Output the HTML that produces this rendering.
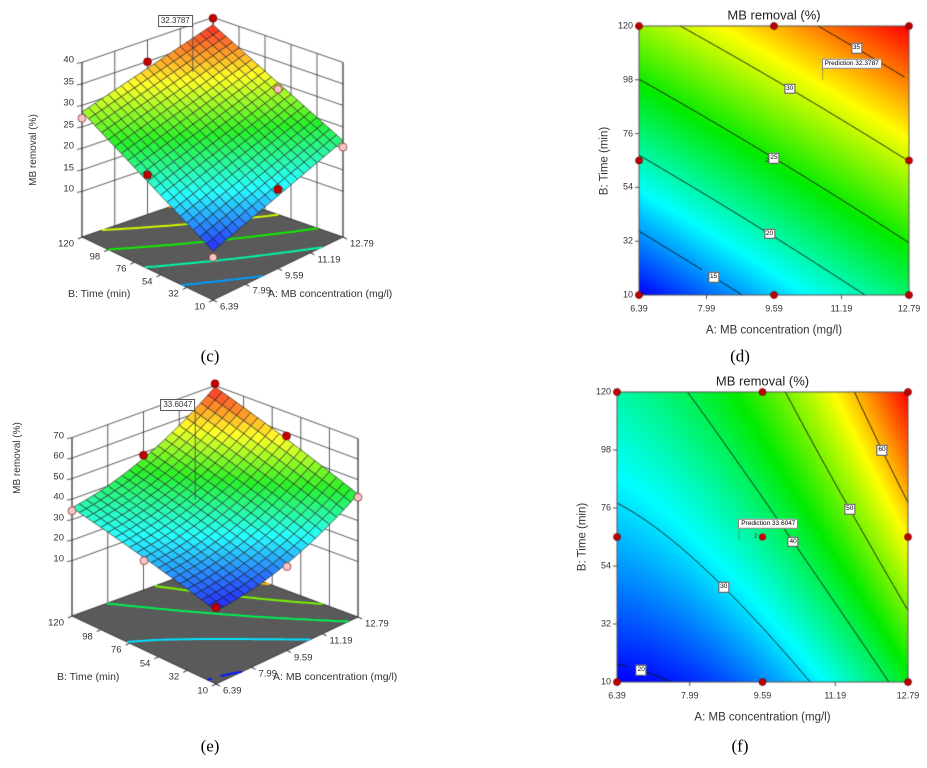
<!DOCTYPE html>
<html><head><meta charset="utf-8">
<style>
body{margin:0;width:927px;height:768px;background:#fff;position:relative;overflow:hidden;font-family:"Liberation Sans",sans-serif;}
canvas{position:absolute;left:0;top:0}
.t{position:absolute;white-space:nowrap;color:#333;line-height:1}
</style></head>
<body>
<canvas id="cv" width="927" height="768"></canvas>
<script>
// ---- data ----
const tickA = ['6.39','7.99','9.59','11.19','12.79'];
const tickB = ['10','32','54','76','98','120'];
const coefC = [10.8, 11, 17.7, -1.2, 0, 0];   // c0, A, B, AB, A^2, B^2 (coded 0..1)
const coefE = [18.8, 2.6, 20, 9.5, 21.5, -3];
const levelsC = [15, 20, 25, 30, 35];
const levelsE = [20, 30, 40, 50, 60];
const zTicksC = [10, 15, 20, 25, 30, 35, 40];
const zTicksE = [10, 20, 30, 40, 50, 60, 70];
const designA = [0, 0.5, 1, 0, 1, 0, 0.5, 1];
const designB = [0, 0, 0, 0.5, 0.5, 1, 1, 1];
const designResidC = [-1.5, 1.5, -1.5, 1.5, -1.5, -1.5, 1.5, 1.5];
const designResidE = [1.5, -1.5, -1.5, -1.5, 1.5, -1.5, 1.5, 1.5];

const cv = document.getElementById('cv'), ctx = cv.getContext('2d');
function model(c, a, b){ return c[0]+c[1]*a+c[2]*b+c[3]*a*b+c[4]*a*a+c[5]*b*b; }
const stops=[[0,0,255],[0,255,255],[0,235,0],[255,255,0],[255,0,0]];
function jet(t){ t=Math.max(0,Math.min(1,t)); const s=t*4, i=Math.min(3,Math.floor(s)), f=s-i;
  const p=stops[i], q=stops[i+1]; return [0,1,2].map(k=>Math.round(p[k]+(q[k]-p[k])*f)); }
function rgb(c){return 'rgb('+c[0]+','+c[1]+','+c[2]+')';}
function range(c){ let mn=1e9,mx=-1e9; for(let i=0;i<=20;i++)for(let j=0;j<=20;j++){const z=model(c,i/20,j/20);mn=Math.min(mn,z);mx=Math.max(mx,z);} return [mn,mx]; }
function txt(x,y,s,size,align,name,rot,extra){
  const d=document.createElement('div'); d.className='t'; d.textContent=s;
  d.style.left=x+'px'; d.style.top=y+'px'; d.style.fontSize=size+'px';
  const tx = align==='c'?'-50%':(align==='r'?'-100%':'0');
  d.style.transform='translate('+tx+',-50%)'+(rot?' rotate('+rot+'deg)':'');
  if(extra) d.style.cssText+=extra;
  
  
  document.body.appendChild(d); return d;
}
function contourSegs(c, level, N){
  const segs=[];
  for(let i=0;i<N;i++)for(let j=0;j<N;j++){
    const a0=i/N,a1=(i+1)/N,b0=j/N,b1=(j+1)/N;
    const v=[model(c,a0,b0),model(c,a1,b0),model(c,a1,b1),model(c,a0,b1)];
    const P=[[a0,b0],[a1,b0],[a1,b1],[a0,b1]], pts=[];
    for(let e=0;e<4;e++){const p=v[e],q=v[(e+1)%4];
      if((p-level)*(q-level)<0){const f=(level-p)/(q-p);const A=P[e],B=P[(e+1)%4];pts.push([A[0]+(B[0]-A[0])*f,A[1]+(B[1]-A[1])*f]);}}
    if(pts.length===2) segs.push(pts); else if(pts.length===4){segs.push([pts[0],pts[1]]);segs.push([pts[2],pts[3]]);}
  }
  return segs;
}

// ---- 3D panel ----
function draw3D(cfg){
  const [mn,mx]=range(cfg.coef);
  const F=cfg.F,R=cfg.R,L=cfg.L,K=cfg.K;
  function fl(a,b){return [(1-a)*(1-b)*F[0]+a*(1-b)*R[0]+(1-a)*b*L[0]+a*b*K[0],(1-a)*(1-b)*F[1]+a*(1-b)*R[1]+(1-a)*b*L[1]+a*b*K[1]];}
  function P(a,b,z){const p=fl(a,b);return [p[0],p[1]-(z-cfg.z0)*cfg.k];}
  ctx.lineWidth=0.8; ctx.strokeStyle='#333';
  const zt=cfg.zTicks, ztop=zt[zt.length-1];
  ctx.beginPath();
  for(let i=0;i<tickA.length;i++){const a=i/(tickA.length-1);const p=P(a,1,cfg.z0),q=P(a,1,ztop);ctx.moveTo(p[0],p[1]);ctx.lineTo(q[0],q[1]);}
  for(let i=0;i<tickB.length;i++){const b=i/(tickB.length-1);const p=P(1,b,cfg.z0),q=P(1,b,ztop);ctx.moveTo(p[0],p[1]);ctx.lineTo(q[0],q[1]);}
  zt.forEach(z=>{const p=P(0,1,z),q=P(1,1,z),r=P(1,0,z);ctx.moveTo(p[0],p[1]);ctx.lineTo(q[0],q[1]);ctx.lineTo(r[0],r[1]);});
  ctx.stroke();
  zt.forEach(z=>{const p=P(0,1,z);ctx.beginPath();ctx.moveTo(p[0]-5,p[1]+1);ctx.lineTo(p[0],p[1]);ctx.stroke();
    txt(p[0]-8,p[1]-2,String(z),cfg.fs,'r','z-tick-label');});
  const f0=fl(0,0),f1=fl(1,0),f2=fl(1,1),f3=fl(0,1);
  ctx.fillStyle='#5a5a5a';ctx.beginPath();ctx.moveTo(f0[0],f0[1]);ctx.lineTo(f1[0],f1[1]);ctx.lineTo(f2[0],f2[1]);ctx.lineTo(f3[0],f3[1]);ctx.closePath();ctx.fill();
  ctx.strokeStyle='#222';ctx.stroke();
  cfg.levels.forEach(l=>{ctx.strokeStyle=rgb(jet((l-mn)/(mx-mn)));ctx.lineWidth=2;ctx.beginPath();
    contourSegs(cfg.coef,l,40).forEach(s=>{const p=fl(s[0][0],s[0][1]),q=fl(s[1][0],s[1][1]);ctx.moveTo(p[0],p[1]);ctx.lineTo(q[0],q[1]);});ctx.stroke();});
  ctx.strokeStyle='#222';ctx.lineWidth=1;
  tickB.forEach((s,i)=>{const b=i/(tickB.length-1);const p=fl(0,b);ctx.beginPath();ctx.moveTo(p[0],p[1]);ctx.lineTo(p[0]-4,p[1]+2);ctx.stroke();
    txt(p[0]-8,p[1]+7,s,cfg.fs,'r','b-tick-label');});
  tickA.forEach((s,i)=>{const a=i/(tickA.length-1);const p=fl(a,0);ctx.beginPath();ctx.moveTo(p[0],p[1]);ctx.lineTo(p[0]+4,p[1]+2);ctx.stroke();
    txt(p[0]+7,p[1]+7,s,cfg.fs,'l','a-tick-label');});
  const N=20, cells=[];
  for(let i=0;i<N;i++)for(let j=0;j<N;j++)cells.push([i,j]);
  cells.sort((u,v)=>(v[0]+v[1])-(u[0]+u[1]));
  ctx.lineWidth=0.6;ctx.strokeStyle='#1a1a1a';
  cells.forEach(([i,j])=>{const a0=i/N,a1=(i+1)/N,b0=j/N,b1=(j+1)/N;
    const z=model(cfg.coef,(a0+a1)/2,(b0+b1)/2);
    const pts=[P(a0,b0,model(cfg.coef,a0,b0)),P(a1,b0,model(cfg.coef,a1,b0)),P(a1,b1,model(cfg.coef,a1,b1)),P(a0,b1,model(cfg.coef,a0,b1))];
    ctx.fillStyle=rgb(jet((z-mn)/(mx-mn)).map(v=>Math.round(v*0.85+40)));
    ctx.beginPath();ctx.moveTo(pts[0][0],pts[0][1]);for(let k=1;k<4;k++)ctx.lineTo(pts[k][0],pts[k][1]);ctx.closePath();ctx.fill();ctx.stroke();});
  ctx.strokeStyle='#333';ctx.lineWidth=0.8;
  [[0,1],[1,0]].forEach(([a,b])=>{const p=P(a,b,cfg.z0),q=P(a,b,ztop);ctx.beginPath();ctx.moveTo(p[0],p[1]);ctx.lineTo(q[0],q[1]);ctx.stroke();});
  designA.forEach((a,i)=>{const b=designB[i];const r=cfg.resid[i];const p=P(a,b,model(cfg.coef,a,b)+r);
    ctx.beginPath();ctx.arc(p[0],p[1],4,0,7);ctx.fillStyle=r>0?'#c00000':'#f6c6c6';ctx.fill();ctx.strokeStyle='#600';ctx.lineWidth=0.6;ctx.stroke();});
  const pc=P(0.5,0.5,model(cfg.coef,0.5,0.5));
  ctx.strokeStyle='#444';ctx.lineWidth=0.8;ctx.beginPath();ctx.moveTo(pc[0]-20,pc[1]+cfg.flagDrop);ctx.lineTo(pc[0]-20,cfg.flagY+5);ctx.stroke();
  txt(pc[0]-20,cfg.flagY,cfg.flag,8,'r','prediction-flag',0,'border:1px solid #555;background:#fff;padding:1px 2px;');
  txt(cfg.zlab[0],cfg.zlab[1],'MB removal (%)',10,'c','z-axis-title',-90);
  txt(cfg.blab[0],cfg.blab[1],'B: Time (min)',10.5,'l','b-axis-title');
  txt(cfg.alab[0],cfg.alab[1],'A: MB concentration  (mg/l)',10.5,'l','a-axis-title');
}

// ---- 2D contour panel ----
function draw2D(cfg){
  const [mn,mx]=range(cfg.coef);
  const x0=cfg.x0,x1=cfg.x1,y0=cfg.y0,y1=cfg.y1,w=x1-x0,h=y1-y0;
  const img=ctx.getImageData(x0,y0,w,h);
  for(let y=0;y<h;y++)for(let x=0;x<w;x++){const a=x/(w-1),b=1-y/(h-1);const c=jet((model(cfg.coef,a,b)-mn)/(mx-mn));const o=(y*w+x)*4;img.data[o]=c[0];img.data[o+1]=c[1];img.data[o+2]=c[2];img.data[o+3]=255;}
  ctx.putImageData(img,x0,y0);
  const X=a=>x0+a*w, Y=b=>y1-b*h;
  ctx.strokeStyle='#111';ctx.lineWidth=0.9;
  cfg.levels.forEach((l,li)=>{ctx.beginPath();const segs=contourSegs(cfg.coef,l,60);
    segs.forEach(s=>{ctx.moveTo(X(s[0][0]),Y(s[0][1]));ctx.lineTo(X(s[1][0]),Y(s[1][1]));});ctx.stroke();
    const la=cfg.labA[li];let best=null,bd=1e9;
    segs.forEach(s=>{const d=Math.abs(s[0][0]-la);if(d<bd){bd=d;best=s;}});
    if(best) txt(X(best[0][0]),Y(best[0][1]),String(l),6.5,'c','contour-label',0,'background:#fff;border:1px solid #555;padding:1px 1px;color:#000;');
  });
  ctx.strokeStyle='#555';ctx.lineWidth=1;ctx.strokeRect(x0,y0,w,h);
  tickA.forEach((s,i)=>{const x=X(i/(tickA.length-1));ctx.beginPath();ctx.moveTo(x,y1);ctx.lineTo(x,y1+4);ctx.stroke();txt(x,y1+14,s,9,'c','x-tick-label');});
  tickB.forEach((s,i)=>{const y=Y(i/(tickB.length-1));ctx.beginPath();ctx.moveTo(x0,y);ctx.lineTo(x0-4,y);ctx.stroke();txt(x0-6,y,s,9,'r','y-tick-label');});
  designA.forEach((a,i)=>{ctx.beginPath();ctx.arc(X(a),Y(designB[i]),3.5,0,7);ctx.fillStyle='#c00000';ctx.fill();ctx.strokeStyle='#500';ctx.lineWidth=0.6;ctx.stroke();});
  ctx.beginPath();ctx.arc(X(0.5),Y(0.5),3.5,0,7);ctx.fillStyle='#c00000';ctx.fill();
  txt(X(0.5)-5,Y(0.5),'2',6,'r','replicate-count');
  const pa=cfg.flagPos;ctx.strokeStyle='#666';ctx.beginPath();ctx.moveTo(X(pa[0]),Y(pa[1]));ctx.lineTo(X(pa[0]),Y(pa[1])-12);ctx.stroke();
  txt(X(pa[0])-1,Y(pa[1])-16,cfg.flag,6.5,'l','prediction-flag',0,'background:#fff;border:1px solid #888;padding:1px 2px;color:#000;');
  txt((x0+x1)/2,y0-11,'MB removal (%)',13,'c','chart-title',0,'color:#222;');
  txt((x0+x1)/2,y1+36,'A: MB concentration  (mg/l)',11.5,'c','x-axis-title');
  txt(x0-34,(y0+y1)/2,'B: Time (min)',11.5,'c','y-axis-title',-90);
}

draw3D({coef:coefC,levels:levelsC,zTicks:zTicksC,resid:designResidC,F:[213,300],R:[343,237],L:[82,237],K:[213,192],z0:-0.6,k:4.3,fs:9.5,
  flag:'32.3787',flagY:21,flagDrop:-60,zlab:[34,150],blab:[68,294],alab:[268,294]});
draw2D({coef:coefC,levels:levelsC,x0:639,x1:909,y0:26,y1:295,labA:[0.26,0.49,0.5,0.56,0.81],flag:'Prediction  32.3787',flagPos:[0.68,0.8]});
draw3D({coef:coefE,levels:levelsE,zTicks:zTicksE,resid:designResidE,F:[216,684],R:[358,617],L:[72,616],K:[215,564],z0:-17,k:2.05,fs:9.5,
  flag:'33.6047',flagY:405,flagDrop:-10,zlab:[18,458],blab:[57,677],alab:[273,677]});
draw2D({coef:coefE,levels:levelsE,x0:617,x1:908,y0:392,y1:682,labA:[0.09,0.37,0.61,0.8,0.91],flag:'Prediction  33.6047',flagPos:[0.42,0.49]});

txt(210,356,'(c)',17,'c','panel-label-c',0,'font-family:"Liberation Serif",serif;color:#000;');
txt(740,356,'(d)',17,'c','panel-label-d',0,'font-family:"Liberation Serif",serif;color:#000;');
txt(210,746,'(e)',17,'c','panel-label-e',0,'font-family:"Liberation Serif",serif;color:#000;');
txt(740,746,'(f)',17,'c','panel-label-f',0,'font-family:"Liberation Serif",serif;color:#000;');
</script>
</body></html>
